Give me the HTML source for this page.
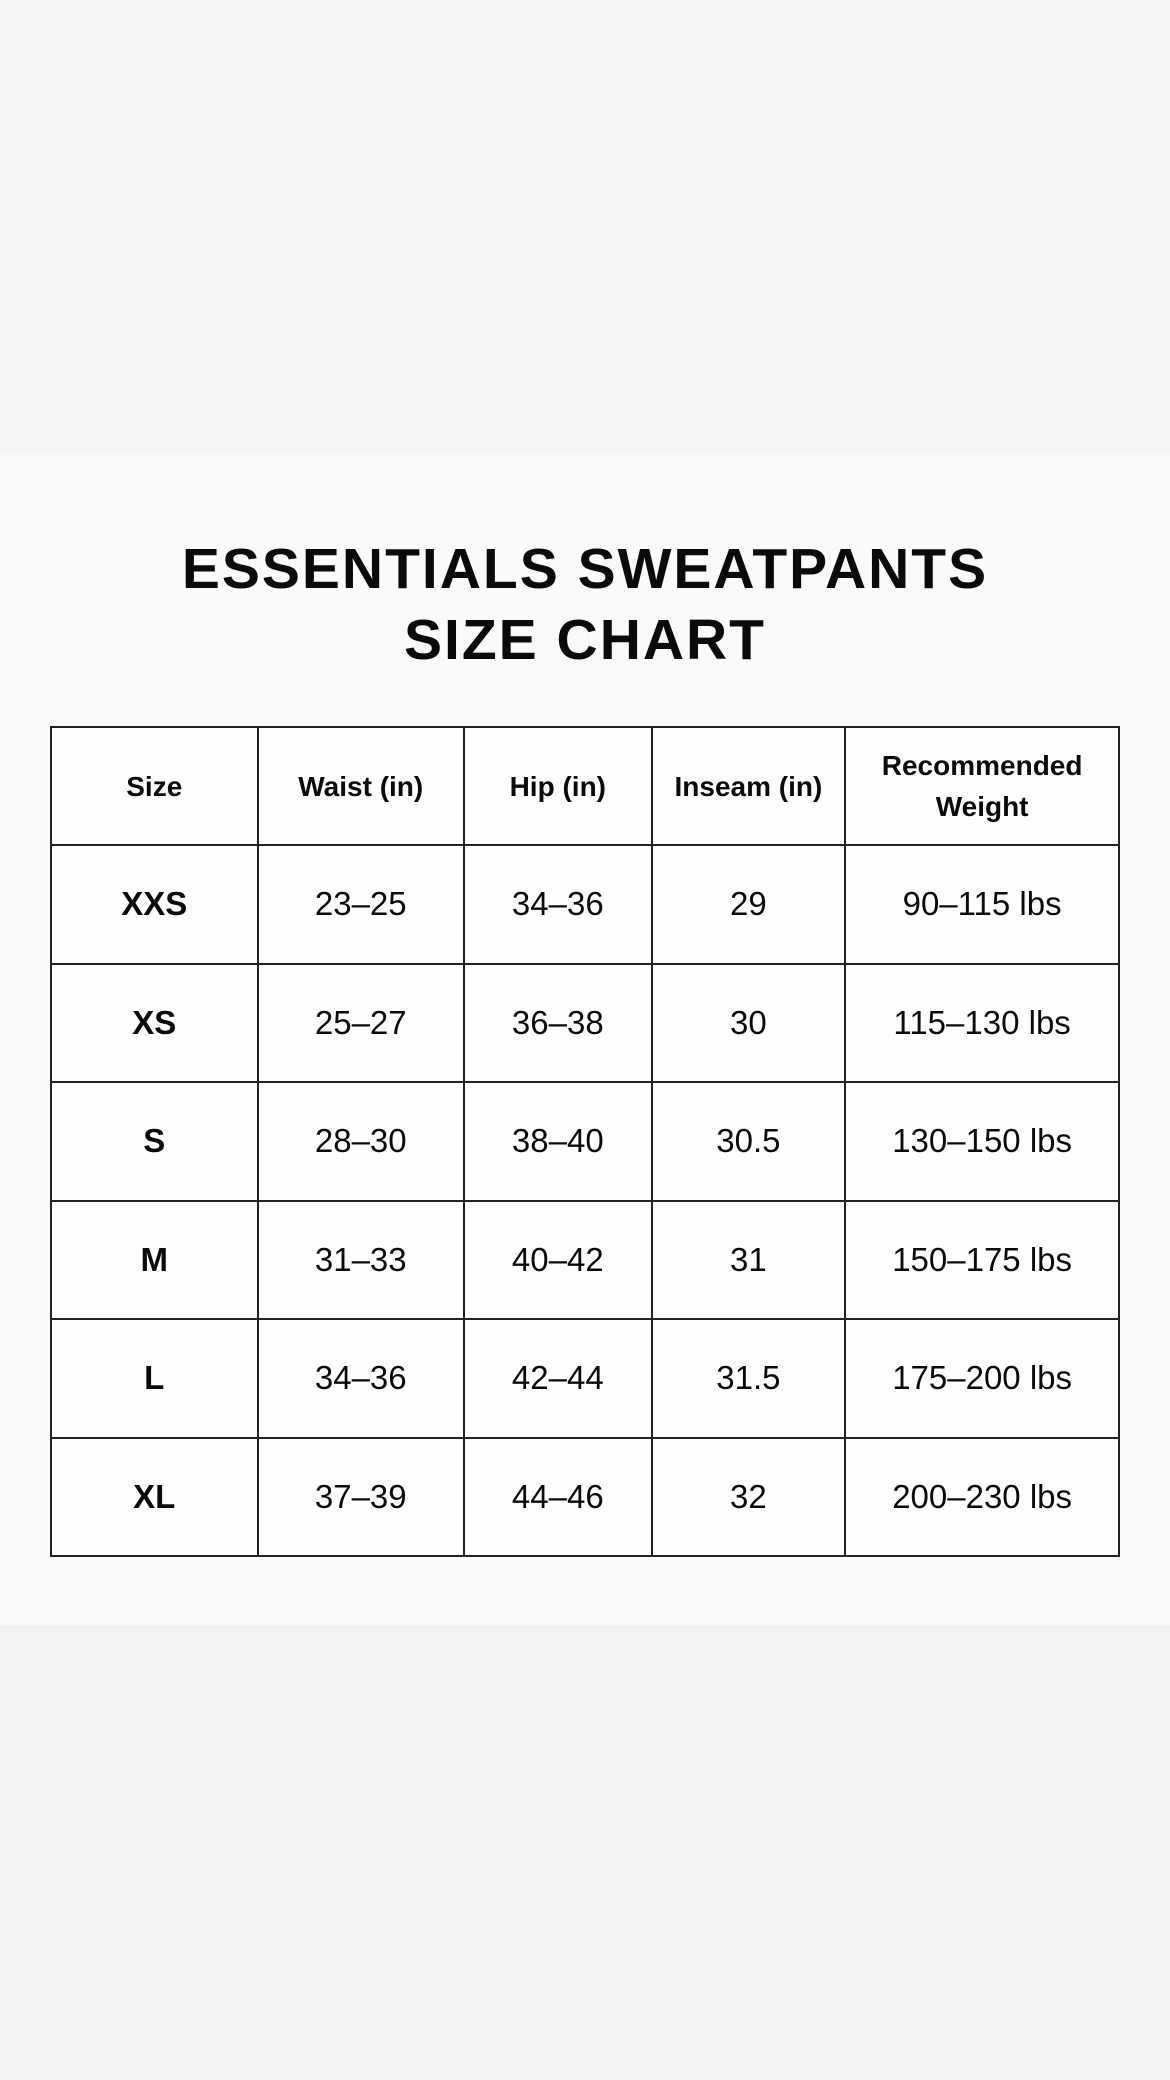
<!DOCTYPE html>
<html><head><meta charset="utf-8"><style>
*{margin:0;padding:0;box-sizing:border-box}
html,body{width:1170px;height:2080px;overflow:hidden;font-family:"Liberation Sans",sans-serif;color:#0a0a0a}
.top{position:absolute;left:0;top:0;width:1170px;height:455px;background:#f5f5f4}
.mid{position:absolute;left:0;top:455px;width:1170px;height:1170px;background:#fafaf8}
.bot{position:absolute;left:0;top:1625px;width:1170px;height:455px;background:#f2f2f2}
.title{position:absolute;left:0;width:1170px;text-align:center;font-weight:bold;font-size:57px;letter-spacing:2px;line-height:1}
table{position:absolute;left:50px;top:726px;width:1070px;border-collapse:collapse;background:#fefefd}
td{border:2px solid #222;text-align:center;vertical-align:middle;height:118.5px;font-size:33px}
tr.h td{height:118px;font-weight:bold;font-size:28px;line-height:41px}
td.s{font-weight:bold;font-size:33px}
</style></head><body>
<div class="top"></div><div class="mid"></div><div class="bot"></div>
<div class="title" style="top:541px">ESSENTIALS SWEATPANTS</div>
<div class="title" style="top:612px">SIZE CHART</div>
<table>
<colgroup><col style="width:207px"><col style="width:207px"><col style="width:188px"><col style="width:194px"><col style="width:274px"></colgroup>
<tr class="h"><td>Size</td><td>Waist (in)</td><td>Hip (in)</td><td>Inseam (in)</td><td>Recommended<br>Weight</td></tr>
<tr><td class="s">XXS</td><td>23–25</td><td>34–36</td><td>29</td><td>90–115 lbs</td></tr>
<tr><td class="s">XS</td><td>25–27</td><td>36–38</td><td>30</td><td>115–130 lbs</td></tr>
<tr><td class="s">S</td><td>28–30</td><td>38–40</td><td>30.5</td><td>130–150 lbs</td></tr>
<tr><td class="s">M</td><td>31–33</td><td>40–42</td><td>31</td><td>150–175 lbs</td></tr>
<tr><td class="s">L</td><td>34–36</td><td>42–44</td><td>31.5</td><td>175–200 lbs</td></tr>
<tr><td class="s">XL</td><td>37–39</td><td>44–46</td><td>32</td><td>200–230 lbs</td></tr>
</table>
</body></html>
